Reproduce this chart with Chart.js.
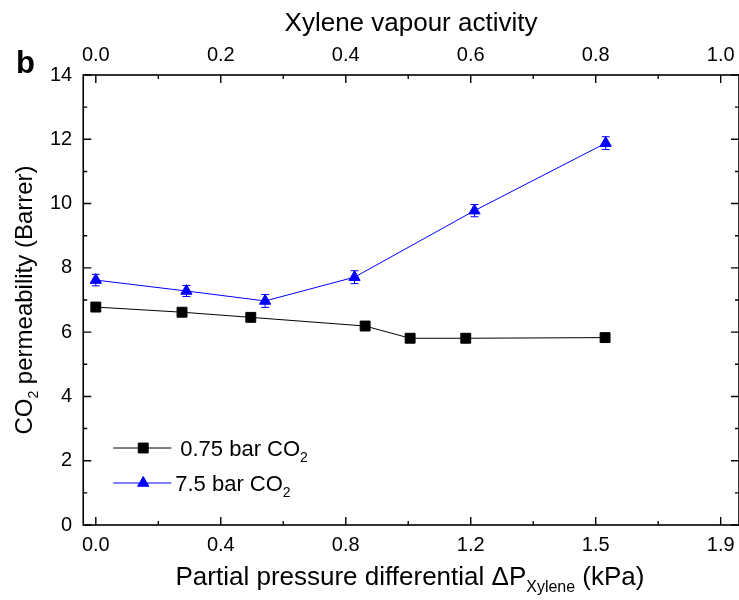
<!DOCTYPE html>
<html><head><meta charset="utf-8">
<script src="https://cdn.jsdelivr.net/npm/chart.js@4.4.1/dist/chart.umd.min.js"></script>
<style>html,body{margin:0;padding:0;background:#fff}#wrap{width:739px;height:600px;position:relative}canvas{display:block}</style>
</head><body><div id="wrap"><canvas id="c" width="739" height="600"></canvas></div>
<script>
// ---- data ----
const activityLow = [0, 0.138, 0.248, 0.431, 0.503, 0.592, 0.815];   // xylene vapour activity, 0.75 bar CO2
const permLow     = [6.78, 6.62, 6.46, 6.19, 5.81, 5.81, 5.83];      // CO2 permeability (Barrer)
const activityHigh = [0, 0.145, 0.271, 0.414, 0.606, 0.816];         // xylene vapour activity, 7.5 bar CO2
const permHigh     = [7.62, 7.28, 6.97, 7.71, 9.78, 11.88];          // CO2 permeability (Barrer)
const errHigh      = [0.18, 0.17, 0.20, 0.20, 0.19, 0.20];           // error bars, 7.5 bar CO2

const seriesNames = ['0.75 bar CO', '7.5 bar CO'];   // followed by subscript "2"
const xTopTicks    = [0, 0.2, 0.4, 0.6, 0.8, 1.0];
const xTopLabels   = ['0.0', '0.2', '0.4', '0.6', '0.8', '1.0'];
const xBottomLabels = ['0.0', '0.4', '0.8', '1.2', '1.5', '1.9'];
const xMinorTicks  = [0.1, 0.3, 0.5, 0.7, 0.9];
const yTicks       = [0, 2, 4, 6, 8, 10, 12, 14];
const yMinorTicks  = [1, 3, 5, 7, 9, 11, 13];
const xRange = [-0.0201, 1.0293];
const yRange = [0, 14];

const FONT = '"Liberation Sans", Arial, Helvetica, sans-serif';
const BLUE = '#0000ff';

function drawRich(ctx, parts, x, y, align) {
  let w = 0;
  parts.forEach(p => { ctx.font = p.size + 'px ' + FONT; w += ctx.measureText(p.t).width; });
  let cx = align === 'center' ? x - w / 2 : x;
  parts.forEach(p => {
    ctx.font = p.size + 'px ' + FONT;
    ctx.fillText(p.t, cx, y + (p.dy || 0));
    cx += ctx.measureText(p.t).width;
  });
}

function markerPath(ctx, style, x, y, r) {
  ctx.beginPath();
  if (style === 'rect') {
    const s = Math.SQRT1_2 * r;
    ctx.rect(x - s, y - s, 2 * s, 2 * s);
  } else {
    let rad = 0;
    ctx.moveTo(x + Math.sin(rad) * r, y - Math.cos(rad) * r);
    rad += 2 * Math.PI / 3;
    ctx.lineTo(x + Math.sin(rad) * r, y - Math.cos(rad) * r);
    rad += 2 * Math.PI / 3;
    ctx.lineTo(x + Math.sin(rad) * r, y - Math.cos(rad) * r);
    ctx.closePath();
  }
}

const framePlugin = {
  id: 'frame',
  beforeDatasetsDraw(chart) {
    const {ctx, chartArea: a, scales} = chart;
    ctx.save();
    ctx.strokeStyle = '#000';
    ctx.lineWidth = 1.6;
    ctx.strokeRect(a.left, a.top, a.right - a.left, a.bottom - a.top);
    ctx.lineWidth = 1.4;
    ctx.beginPath();
    const xt = (v, len) => {
      const px = scales.x.getPixelForValue(v);
      ctx.moveTo(px, a.bottom); ctx.lineTo(px, a.bottom - len);
      ctx.moveTo(px, a.top); ctx.lineTo(px, a.top + len);
    };
    const yt = (v, len) => {
      const py = scales.y.getPixelForValue(v);
      ctx.moveTo(a.left, py); ctx.lineTo(a.left + len, py);
      ctx.moveTo(a.right, py); ctx.lineTo(a.right - len, py);
    };
    xTopTicks.forEach(v => xt(v, 8));
    xMinorTicks.forEach(v => xt(v, 4));
    yTicks.forEach(v => yt(v, 8));
    yMinorTicks.forEach(v => yt(v, 4));
    ctx.stroke();
    // error bars
    const xs = scales.x, ys = scales.y;
    ctx.strokeStyle = BLUE;
    ctx.lineWidth = 1;
    ctx.beginPath();
    activityHigh.forEach((v, i) => {
      const px = xs.getPixelForValue(v);
      const y1 = ys.getPixelForValue(permHigh[i] + errHigh[i]);
      const y2 = ys.getPixelForValue(permHigh[i] - errHigh[i]);
      ctx.moveTo(px, y1); ctx.lineTo(px, y2);
      ctx.moveTo(px - 4, y1); ctx.lineTo(px + 4, y1);
      ctx.moveTo(px - 4, y2); ctx.lineTo(px + 4, y2);
    });
    ctx.stroke();
    ctx.restore();
  }
};

const textPlugin = {
  id: 'texts',
  afterDraw(chart) {
    const {ctx, chartArea: a} = chart;
    ctx.save();
    ctx.fillStyle = '#000';
    ctx.textBaseline = 'alphabetic';
    ctx.font = 'bold 31px ' + FONT;
    ctx.textAlign = 'left';
    ctx.fillText('b', 16, 73);
    drawRich(ctx, [{t: 'Xylene vapour activity', size: 26}], 411, 31, 'center');
    drawRich(ctx, [
      {t: 'Partial pressure differential \u0394P', size: 26},
      {t: 'Xylene', size: 16, dy: 7},
      {t: ' (kPa)', size: 26}
    ], 410, 585, 'center');
    ctx.save();
    ctx.translate(32, (a.top + a.bottom) / 2);
    ctx.rotate(-Math.PI / 2);
    drawRich(ctx, [
      {t: 'CO', size: 24},
      {t: '2', size: 14, dy: 6},
      {t: ' permeability (Barrer)', size: 24}
    ], 0, 0, 'center');
    ctx.restore();
    // legend
    const rows = [
      {name: seriesNames[0], color: '#000', style: 'rect', r: 7, y: a.bottom - 77, tx: a.left + 97},
      {name: seriesNames[1], color: BLUE, style: 'triangle', r: 6.5, y: a.bottom - 42, tx: a.left + 92}
    ];
    rows.forEach(row => {
      ctx.strokeStyle = row.color;
      ctx.lineWidth = 1;
      ctx.beginPath();
      ctx.moveTo(a.left + 30, row.y); ctx.lineTo(a.left + 88, row.y);
      ctx.stroke();
      ctx.fillStyle = row.color;
      markerPath(ctx, row.style, a.left + 60, row.y, row.r);
      ctx.fill(); ctx.stroke();
      ctx.fillStyle = '#000';
      drawRich(ctx, [{t: row.name, size: 22}, {t: '2', size: 14, dy: 6}], row.tx, row.y + 8, 'left');
    });
    ctx.restore();
  }
};

const tickFont = {family: FONT, size: 20, lineHeight: 1.2};
const noSidePad = s => { s.paddingLeft = 0; s.paddingRight = 0; };

new Chart(document.getElementById('c'), {
  type: 'scatter',
  data: {
    datasets: [
      {
        label: seriesNames[0] + '\u2082',
        data: activityLow.map((x, i) => ({x, y: permLow[i]})),
        showLine: true,
        borderColor: '#000', backgroundColor: '#000', borderWidth: 1,
        pointStyle: 'rect', pointRadius: 7, pointBorderWidth: 1,
        pointBorderColor: '#000', pointBackgroundColor: '#000'
      },
      {
        label: seriesNames[1] + '\u2082',
        data: activityHigh.map((x, i) => ({x, y: permHigh[i]})),
        showLine: true,
        borderColor: BLUE, backgroundColor: BLUE, borderWidth: 1,
        pointStyle: 'triangle', pointRadius: 6.5, pointBorderWidth: 1,
        pointBorderColor: BLUE, pointBackgroundColor: BLUE
      }
    ]
  },
  options: {
    responsive: false,
    animation: false,
    layout: {autoPadding: false, padding: {left: 39, right: 0, top: 36, bottom: 35}},
    plugins: {legend: {display: false}, tooltip: {enabled: false}},
    scales: {
      x: {
        type: 'linear', position: 'bottom', min: xRange[0], max: xRange[1],
        grid: {display: false, drawTicks: false}, border: {display: false},
        afterBuildTicks: s => { s.ticks = xTopTicks.map(v => ({value: v})); },
        afterFit: noSidePad,
        ticks: {font: tickFont, color: '#000', padding: 8, maxRotation: 0, autoSkip: false,
                callback: (v, i) => xBottomLabels[i]}
      },
      x2: {
        type: 'linear', position: 'top', min: xRange[0], max: xRange[1],
        grid: {display: false, drawTicks: false}, border: {display: false},
        afterBuildTicks: s => { s.ticks = xTopTicks.map(v => ({value: v})); },
        afterFit: noSidePad,
        ticks: {font: tickFont, color: '#000', padding: 7.5, maxRotation: 0, autoSkip: false,
                callback: (v, i) => xTopLabels[i]}
      },
      y: {
        type: 'linear', min: yRange[0], max: yRange[1],
        grid: {display: false, drawTicks: false}, border: {display: false},
        afterBuildTicks: s => { s.ticks = yTicks.map(v => ({value: v})); },
        ticks: {font: tickFont, color: '#000', padding: 11, callback: v => String(v)}
      }
    }
  },
  plugins: [framePlugin, textPlugin]
});
</script>
</body></html>
